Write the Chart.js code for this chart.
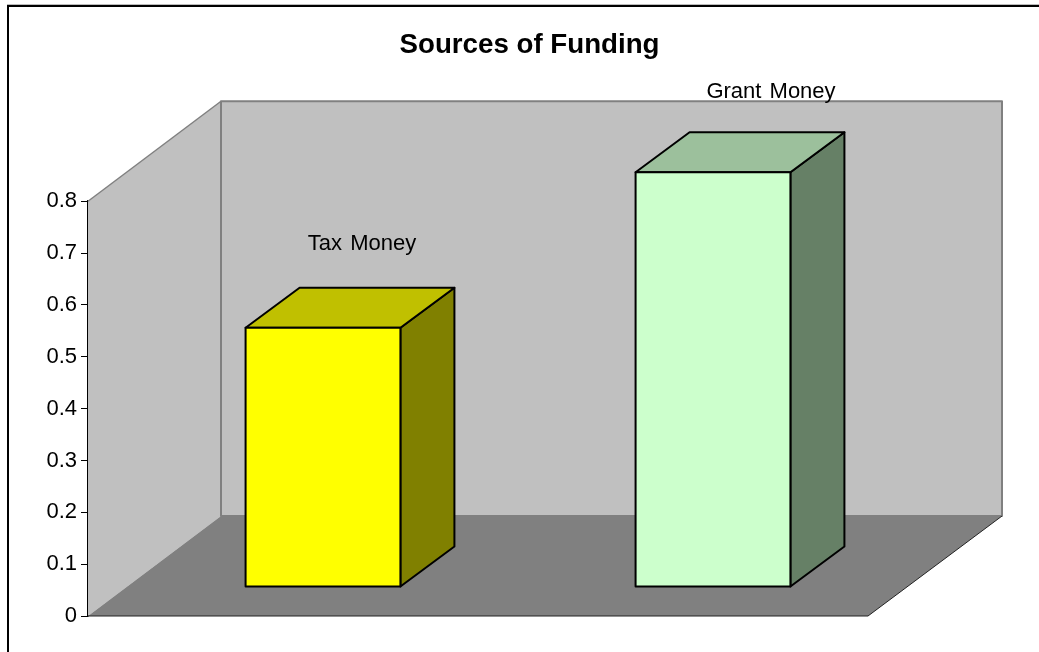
<!DOCTYPE html>
<html lang="en">
<head>
  <meta charset="UTF-8">
  <title>Sources of Funding</title>
  <script src="https://cdn.jsdelivr.net/npm/chart.js"></script>
  <style>
    html, body { margin: 0; padding: 0; background: white; }
    #wrap { position: relative; width: 1039px; height: 652px; overflow: hidden; }
    /* the frame runs off the right and bottom of the picture */
    #frame { position: absolute; left: 7px; top: 5px; width: 1100px; height: 700px; border: 2px solid black; box-sizing: border-box; box-shadow: 0 -1px 0 #bbbbbb; }
    canvas { position: absolute; left: 0; top: 0; }
  </style>
</head>
<body>
  <div id="wrap">
    <div id="frame"></div>
    <canvas id="chart" width="1039" height="652"></canvas>
  </div>
  <script>
    const categories = ["Tax Money", "Grant Money"];
    const funding = [0.5, 0.8];
    const frontColors = ["#ffff00", "#ccffcc"];
    const topColors = ["#c0c000", "#9cc09c"];
    const sideColors = ["#808000", "#668066"];
    const yTicks = [0, 0.1, 0.2, 0.3, 0.4, 0.5, 0.6, 0.7, 0.8];

    // depth of the fake 3d box, floor and walls
    const wallDx = 133, wallDy = 100;
    const barDx = 54, barDy = 40;
    const barShiftX = 40, barShiftY = 29;
    // where the category labels sit, relative to the top of the front face
    const labelDx = [39, 58];
    const labelDy = [78, 74];

    const fontName = "'Liberation Sans', Arial, sans-serif";

    function poly(ctx, pts, fill, stroke, lw) {
      ctx.beginPath();
      pts.forEach((p, i) => i ? ctx.lineTo(p[0], p[1]) : ctx.moveTo(p[0], p[1]));
      ctx.closePath();
      ctx.fillStyle = fill;
      ctx.fill();
      if (stroke) {
        ctx.strokeStyle = stroke;
        ctx.lineWidth = lw;
        ctx.lineJoin = "round";
        ctx.stroke();
      }
    }

    const box3d = {
      id: "box3d",
      afterLayout(chart) {
        // title is centred on the whole page, not on the padded area
        chart.titleBlock.left = 0;
        chart.titleBlock.right = chart.width + 20;
      },
      beforeDatasetsDraw(chart) {
        const { ctx, chartArea: a } = chart;
        const l = a.left, r = a.right, t = a.top, b = a.bottom;
        ctx.save();
        // left wall
        poly(ctx, [[l, t], [l + wallDx, t - wallDy], [l + wallDx, b - wallDy], [l, b]], "#c0c0c0");
        // back wall
        poly(ctx, [[l + wallDx, t - wallDy], [r + wallDx + 1, t - wallDy], [r + wallDx + 1, b - wallDy], [l + wallDx, b - wallDy]], "#c0c0c0", "#808080", 2);
        // floor
        poly(ctx, [[l, b], [l + wallDx, b - wallDy], [r + wallDx + 1, b - wallDy], [r, b]], "#808080");
        // edges
        ctx.strokeStyle = "#808080";
        ctx.lineWidth = 1.5;
        ctx.beginPath();
        ctx.moveTo(l, t);
        ctx.lineTo(l + wallDx, t - wallDy);
        ctx.stroke();
        ctx.strokeStyle = "#222222";
        ctx.lineWidth = 1;
        ctx.beginPath();
        ctx.moveTo(l, b);
        ctx.lineTo(r, b);
        ctx.lineTo(r + wallDx + 1, b - wallDy);
        ctx.stroke();
        ctx.restore();
      },
      afterDatasetsDraw(chart) {
        const { ctx } = chart;
        const bars = chart.getDatasetMeta(0).data;
        ctx.save();
        bars.forEach((bar, i) => {
          const x0 = bar.x - bar.width / 2 + barShiftX;
          const x1 = bar.x + bar.width / 2 + barShiftX;
          const y0 = bar.y - barShiftY;
          const y1 = bar.base - barShiftY;
          // side, top, then front
          poly(ctx, [[x1, y0], [x1 + barDx, y0 - barDy], [x1 + barDx, y1 - barDy], [x1, y1]], sideColors[i], "black", 2);
          poly(ctx, [[x0, y0], [x0 + barDx, y0 - barDy], [x1 + barDx, y0 - barDy], [x1, y0]], topColors[i], "black", 2);
          poly(ctx, [[x0, y0], [x1, y0], [x1, y1], [x0, y1]], frontColors[i], "black", 2);
          // category label over the box
          ctx.fillStyle = "black";
          ctx.font = "22px " + fontName;
          ctx.wordSpacing = "2px";
          ctx.textAlign = "center";
          ctx.textBaseline = "alphabetic";
          ctx.fillText(categories[i], (x0 + x1) / 2 + labelDx[i], y0 - labelDy[i]);
        });
        ctx.restore();
      }
    };

    new Chart(document.getElementById("chart"), {
      type: "bar",
      data: {
        labels: categories,
        datasets: [{
          data: funding,
          backgroundColor: "rgba(0,0,0,0)",
          borderWidth: 0,
          barPercentage: 0.397,
          categoryPercentage: 1
        }]
      },
      options: {
        responsive: false,
        animation: false,
        layout: { padding: { left: 0, right: 171, top: 0, bottom: 36 } },
        plugins: {
          legend: { display: false },
          tooltip: { enabled: false },
          title: {
            display: true,
            text: "Sources of Funding",
            color: "black",
            font: { family: fontName, size: 27.7, weight: "bold" },
            padding: { top: 29, bottom: 139 }
          }
        },
        scales: {
          x: {
            grid: { display: false, drawTicks: false },
            border: { display: false },
            ticks: { display: false }
          },
          y: {
            min: 0,
            max: 0.8,
            afterBuildTicks(axis) { axis.ticks = yTicks.map(v => ({ value: v })); },
            afterFit(axis) { axis.width = 88; },
            grid: { display: true, drawOnChartArea: false, drawTicks: true, tickLength: 7, color: "black" },
            border: { display: true, color: "black", width: 1.5 },
            ticks: {
              color: "black",
              padding: 4,
              font: { family: fontName, size: 22 },
              callback: v => String(v)
            }
          }
        }
      },
      plugins: [box3d]
    });
  </script>
</body>
</html>
